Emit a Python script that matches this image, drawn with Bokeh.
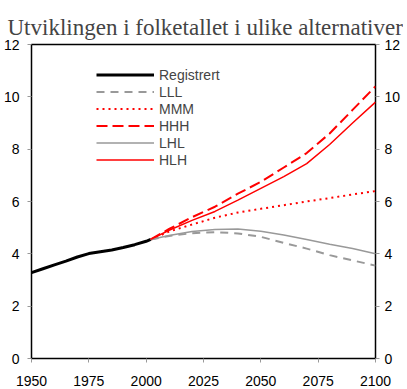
from bokeh.plotting import figure
from bokeh.models import Range1d, LinearAxis, Legend, LegendItem, FixedTicker
from bokeh.embed import file_html
from bokeh.resources import INLINE

# Registrert (historical), millions
reg_years = [1950, 1955, 1960, 1965, 1970, 1975, 1980, 1985, 1990, 1995, 2000, 2002]
reg_vals = [3.28, 3.43, 3.58, 3.72, 3.88, 4.01, 4.08, 4.15, 4.24, 4.35, 4.48, 4.55]

proj_years = [2002, 2010, 2020, 2030, 2040, 2050, 2060, 2070, 2080, 2090, 2100]
lll = [4.55, 4.68, 4.79, 4.83, 4.78, 4.65, 4.42, 4.20, 3.95, 3.75, 3.55]
mmm = [4.55, 4.85, 5.12, 5.38, 5.58, 5.72, 5.86, 6.00, 6.13, 6.27, 6.40]
hhh = [4.55, 4.95, 5.40, 5.80, 6.30, 6.75, 7.30, 7.85, 8.60, 9.50, 10.40]
lhl = [4.55, 4.70, 4.85, 4.93, 4.95, 4.86, 4.72, 4.55, 4.37, 4.20, 4.00]
hlh = [4.55, 4.90, 5.28, 5.62, 6.05, 6.50, 6.95, 7.45, 8.18, 9.00, 9.80]

x_ticks = [1950, 1975, 2000, 2025, 2050, 2075, 2100]
y_ticks = [0, 2, 4, 6, 8, 10, 12]

title_text = "Utviklingen i folketallet i ulike alternativer"

p = figure(frame_width=344, frame_height=314, output_backend="svg",
           toolbar_location=None, x_range=Range1d(1950, 2100),
           y_range=Range1d(0, 12), min_border_left=0, min_border_right=0,
           min_border_top=44, min_border_bottom=0)
p.title.text = title_text
p.title.text_font = "Liberation Serif"
p.title.text_font_size = "23px"
p.title.text_font_style = "normal"
p.title.standoff = 10
p.title.offset = -24

p.xgrid.visible = False
p.ygrid.visible = False
p.outline_line_color = "black"
p.outline_line_width = 1.5
p.outline_line_alpha = 1

raxis = LinearAxis()
p.add_layout(raxis, "right")

for ax in [p.xaxis[0], p.yaxis[0], raxis]:
    ax.axis_line_color = None
    ax.major_tick_line_color = "#999999"
    ax.major_tick_in = 0
    ax.major_tick_out = 4
    ax.minor_tick_line_color = None
    ax.major_label_text_font = "Liberation Sans"
    ax.major_label_text_font_size = "14px"
    ax.major_label_text_color = "black"

p.xaxis[0].ticker = FixedTicker(ticks=x_ticks)
p.yaxis[0].ticker = FixedTicker(ticks=y_ticks)
raxis.ticker = FixedTicker(ticks=y_ticks)
p.xaxis[0].major_label_standoff = 13
p.yaxis[0].major_label_standoff = 8
raxis.major_label_standoff = 5

r_reg = p.line(reg_years, reg_vals, line_color="black", line_width=3)
r_lll = p.line(proj_years, lll, line_color="#999999", line_width=2, line_dash="8 6")
r_mmm = p.line(proj_years, mmm, line_color="red", line_width=2, line_dash="2 4")
r_hhh = p.line(proj_years, hhh, line_color="red", line_width=2, line_dash="11 5")
r_lhl = p.line(proj_years, lhl, line_color="#999999", line_width=1.5)
r_hlh = p.line(proj_years, hlh, line_color="red", line_width=1.5)

legend = Legend(items=[
    LegendItem(label="Registrert", renderers=[r_reg]),
    LegendItem(label="LLL", renderers=[r_lll]),
    LegendItem(label="MMM", renderers=[r_mmm]),
    LegendItem(label="HHH", renderers=[r_hhh]),
    LegendItem(label="LHL", renderers=[r_lhl]),
    LegendItem(label="HLH", renderers=[r_hlh]),
], location=(65, 190), padding=0, margin=0, spacing=0,
   label_height=17, glyph_height=17, glyph_width=58, label_standoff=5,
   background_fill_alpha=0, border_line_alpha=0,
   label_text_font="Liberation Sans", label_text_font_size="14px")
p.add_layout(legend, "center")

open("out.html", "w").write(file_html(p, INLINE))
